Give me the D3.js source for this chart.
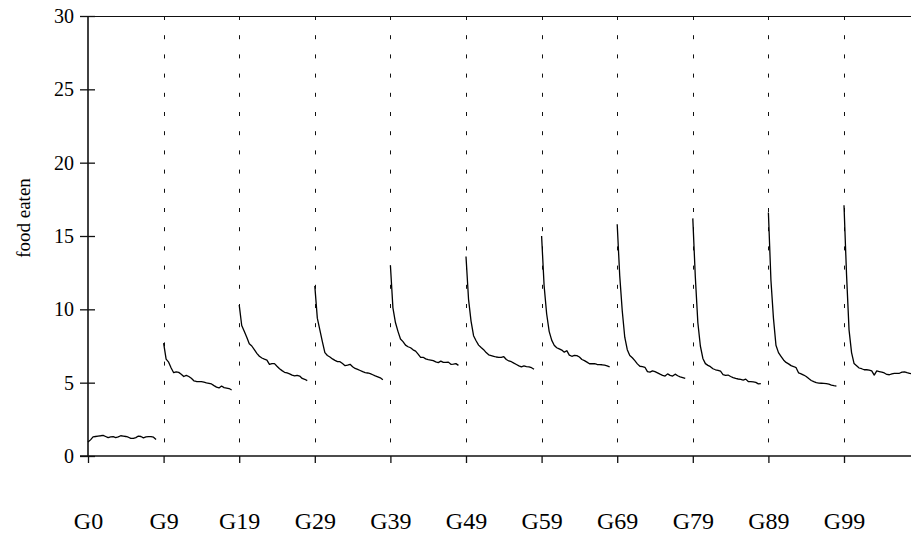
<!DOCTYPE html>
<html>
<head>
<meta charset="utf-8">
<script src="https://cdn.jsdelivr.net/npm/d3@7"></script>
<style>
  html, body { margin: 0; padding: 0; background: #fff; }
  svg { display: block; }
  text { font-family: "Liberation Serif", "DejaVu Serif", serif; fill: #000; }
</style>
</head>
<body>
<svg id="chart" width="911" height="535"></svg>
<script>
// ---- data ----
const tickLabels = ["G0", "G9", "G19", "G29", "G39", "G49", "G59", "G69", "G79", "G89", "G99"];
const yTicks = [0, 5, 10, 15, 20, 25, 30];

const seg0 = [0.95, 1.1, 1.3, 1.33, 1.36, 1.38, 1.41, 1.33, 1.25, 1.3, 1.32, 1.26, 1.3, 1.38, 1.36, 1.33, 1.28, 1.2, 1.2, 1.25, 1.36, 1.33, 1.24, 1.3, 1.32, 1.32, 1.28, 1.12];
const seg1 = [7.7, 6.6, 6.4, 6.0, 5.68, 5.74, 5.7, 5.58, 5.42, 5.5, 5.42, 5.3, 5.13, 5.08, 5.07, 5.07, 5.03, 4.98, 4.95, 4.91, 4.8, 4.7, 4.64, 4.77, 4.66, 4.63, 4.6, 4.5];
const seg2 = [10.3, 8.9, 8.5, 8.1, 7.65, 7.5, 7.25, 7.0, 6.8, 6.68, 6.6, 6.54, 6.25, 6.3, 6.3, 6.12, 5.95, 5.82, 5.71, 5.66, 5.6, 5.51, 5.46, 5.5, 5.45, 5.29, 5.23, 5.14];
const seg3 = [11.6, 9.4, 8.6, 7.8, 7.05, 6.85, 6.75, 6.62, 6.52, 6.43, 6.43, 6.3, 6.16, 6.2, 6.25, 6.09, 5.97, 5.9, 5.83, 5.75, 5.69, 5.66, 5.62, 5.54, 5.46, 5.4, 5.33, 5.2];
const seg4 = [13.0, 10.1, 9.1, 8.5, 7.98, 7.8, 7.56, 7.45, 7.38, 7.24, 7.15, 6.95, 6.73, 6.73, 6.62, 6.57, 6.54, 6.5, 6.42, 6.37, 6.47, 6.38, 6.38, 6.4, 6.25, 6.27, 6.3, 6.18];
const seg5 = [13.6, 10.7, 9.2, 8.2, 7.86, 7.56, 7.4, 7.25, 7.05, 6.9, 6.85, 6.8, 6.75, 6.73, 6.73, 6.77, 6.58, 6.48, 6.43, 6.33, 6.24, 6.15, 6.08, 6.14, 6.1, 6.07, 6.02, 5.91];
const seg6 = [15.0, 11.6, 9.7, 8.5, 7.9, 7.55, 7.38, 7.3, 7.22, 7.08, 7.18, 6.88, 6.8, 6.86, 6.84, 6.75, 6.58, 6.5, 6.4, 6.29, 6.3, 6.29, 6.24, 6.23, 6.22, 6.2, 6.15, 6.08];
const seg7 = [15.8, 12.3, 9.9, 8.1, 7.25, 6.85, 6.7, 6.5, 6.28, 6.12, 6.1, 6.05, 5.75, 5.72, 5.8, 5.75, 5.67, 5.58, 5.5, 5.45, 5.6, 5.5, 5.45, 5.58, 5.47, 5.4, 5.35, 5.3];
const seg8 = [16.2, 12.2, 9.1, 7.5, 6.65, 6.3, 6.18, 6.09, 5.95, 5.88, 5.84, 5.78, 5.55, 5.5, 5.52, 5.42, 5.35, 5.29, 5.25, 5.22, 5.18, 5.24, 5.08, 5.07, 5.06, 5.02, 4.92, 4.93];
const seg9 = [16.6, 12.0, 9.4, 7.55, 7.05, 6.8, 6.55, 6.38, 6.28, 6.16, 6.1, 6.02, 5.66, 5.6, 5.52, 5.42, 5.28, 5.15, 5.07, 5.0, 4.97, 4.96, 4.95, 4.94, 4.9, 4.84, 4.8, 4.77];
const seg10 = [17.1, 12.4, 8.6, 7.05, 6.3, 6.15, 6.0, 5.95, 5.88, 5.88, 5.85, 5.8, 5.52, 5.8, 5.76, 5.72, 5.66, 5.56, 5.54, 5.6, 5.64, 5.64, 5.64, 5.72, 5.74, 5.68, 5.64, 5.6];
const segments = [seg0, seg1, seg2, seg3, seg4, seg5, seg6, seg7, seg8, seg9, seg10];

// ---- layout ----
const period = 30;          // index units between generation ticks
const mLeft = 88, mTop = 16, mBottom = 456;
const svg = d3.select("#chart");

const x = d3.scaleLinear().domain([0, 330]).range([mLeft, mLeft + 330 * 2.52]);
const y = d3.scaleLinear().domain([0, 30]).range([mBottom, mTop]);
const tickVals = tickLabels.map((d, i) => i * period);

// dashed separators
svg.append("g").selectAll("line")
  .data(tickVals.slice(1))
  .join("line")
  .attr("x1", d => Math.round(x(d)) + 0.5).attr("x2", d => Math.round(x(d)) + 0.5)
  .attr("y1", mTop).attr("y2", mBottom)
  .attr("stroke", "#111").attr("stroke-width", 1)
  .attr("stroke-dasharray", "4,15.2");

// top frame line
svg.append("line")
  .attr("x1", mLeft - 8).attr("x2", 920).attr("y1", mTop + 0.5).attr("y2", mTop + 0.5)
  .attr("stroke", "#111").attr("stroke-width", 1);

// y axis
const yAxis = svg.append("g")
  .attr("transform", `translate(${mLeft},0)`)
  .call(d3.axisLeft(y).tickValues(yTicks).tickSize(8).tickPadding(6));
yAxis.select(".domain").remove();
yAxis.selectAll(".tick line").attr("x1", 7).attr("stroke", "#111").attr("stroke-width", 1.3);
yAxis.selectAll(".tick text").style("font-size", "20px").style("font-family", "Liberation Serif");

// x axis
const xAxis = svg.append("g")
  .attr("transform", `translate(0,${mBottom})`)
  .call(d3.axisBottom(x).tickValues(tickVals).tickFormat((d, i) => tickLabels[i]).tickSize(7).tickPadding(49));
xAxis.select(".domain").remove();
xAxis.selectAll(".tick line").attr("stroke", "#111").attr("stroke-width", 1.3);
xAxis.selectAll(".tick text").style("font-size", "24px").style("font-family", "Liberation Serif");

// axis lines
svg.append("line")
  .attr("x1", mLeft - 8).attr("x2", 920).attr("y1", mBottom).attr("y2", mBottom)
  .attr("stroke", "#111").attr("stroke-width", 1.6);
svg.append("line")
  .attr("x1", mLeft).attr("x2", mLeft).attr("y1", mTop).attr("y2", mBottom)
  .attr("stroke", "#111").attr("stroke-width", 1.6);

// data lines
const line = d3.line().x(d => x(d.i)).y(d => y(d.v));
svg.append("g").selectAll("path")
  .data(segments.map((seg, s) => seg.map((v, i) => ({ i: s * period + i, v }))))
  .join("path")
  .attr("d", line)
  .attr("fill", "none").attr("stroke", "#000").attr("stroke-width", 1.3)
  .attr("stroke-linejoin", "round");

// y label
svg.append("text")
  .attr("transform", "translate(30,218) rotate(-90)")
  .attr("text-anchor", "middle")
  .style("font-size", "19px")
  .text("food eaten");
</script>
</body>
</html>
